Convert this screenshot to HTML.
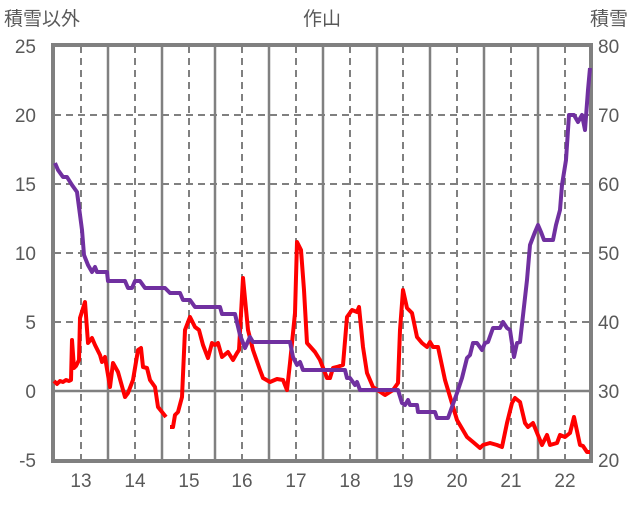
<!DOCTYPE html>
<html><head><meta charset="utf-8"><style>
html,body{margin:0;padding:0;background:#fff;}
svg text{font-family:"Liberation Sans","Noto Sans CJK JP",sans-serif;fill:#595959;}
</style></head><body>
<svg width="636" height="501" viewBox="0 0 636 501" xmlns="http://www.w3.org/2000/svg">
<g stroke="#808080" stroke-width="2" stroke-dasharray="7,5" fill="none">
<line x1="54" y1="115" x2="590" y2="115"/><line x1="54" y1="184" x2="590" y2="184"/>
<line x1="54" y1="253" x2="590" y2="253"/><line x1="54" y1="322" x2="590" y2="322"/>
<line x1="81" y1="46" x2="81" y2="460"/><line x1="135" y1="46" x2="135" y2="460"/>
<line x1="189" y1="46" x2="189" y2="460"/><line x1="242" y1="46" x2="242" y2="460"/>
<line x1="296" y1="46" x2="296" y2="460"/><line x1="350" y1="46" x2="350" y2="460"/>
<line x1="403" y1="46" x2="403" y2="460"/><line x1="457" y1="46" x2="457" y2="460"/>
<line x1="511" y1="46" x2="511" y2="460"/><line x1="565" y1="46" x2="565" y2="460"/>
</g>
<g stroke="#808080" stroke-width="2.5" fill="none">
<line x1="108" y1="46" x2="108" y2="460"/><line x1="162" y1="46" x2="162" y2="460"/>
<line x1="215" y1="46" x2="215" y2="460"/><line x1="269" y1="46" x2="269" y2="460"/>
<line x1="323" y1="46" x2="323" y2="460"/><line x1="377" y1="46" x2="377" y2="460"/>
<line x1="430" y1="46" x2="430" y2="460"/><line x1="484" y1="46" x2="484" y2="460"/>
<line x1="538" y1="46" x2="538" y2="460"/>
<line x1="54" y1="391" x2="590" y2="391"/>
</g>
<rect x="53" y="45" width="538" height="416" fill="none" stroke="#808080" stroke-width="4"/>
<polyline fill="none" stroke="#ff0000" stroke-width="4" stroke-linejoin="round" points="54,381 57,384 60,381 63,382 66,380 69,381 71,380 72,340 74,368 76,366 79,360 80,318 85,302 88,343 92,338 95,345 100,355 102,362 105,357 110,387 113,363 118,372 125,397 128,393 133,380 138,350 141,348 143,367 147,368 150,380 155,387 158,407 162,412 166,417"/>
<polyline fill="none" stroke="#ff0000" stroke-width="4" stroke-linejoin="round" points="170,427 173,427 175,415 178,412 182,397 185,330 190,317 195,327 199,330 203,345 208,358 212,343 215,345 218,343 222,357 228,352 233,360 237,353 239,350 243,278 248,330 253,350 260,370 263,378 270,382 277,379 283,380 287,390 290,363 295,313 297,242 301,250 304,290 307,343 315,352 320,360 327,378 330,378 333,368 337,367 343,365 347,317 352,310 357,312 359,307 363,347 367,373 373,387 385,395 393,390 398,383 400,330 403,290 407,308 412,313 417,337 422,343 427,347 430,342 433,347 438,347 445,380 457,420 467,437 473,442 480,448 483,445 490,443 497,445 502,447 507,423 512,403 515,398 520,402 525,423 528,427 533,423 542,445 547,435 550,445 557,443 560,435 565,437 570,433 574,417 580,445 583,446 587,452 590,452"/>
<polyline fill="none" stroke="#7030a0" stroke-width="4" stroke-linejoin="round" points="55,163 58,170 63,177 67,177 72,185 77,192 82,230 84,255 88,265 92,272 95,267 97,272 107,272 108,281 125,281 128,288 132,288 135,281 140,281 145,288 165,288 170,293 180,293 183,300 190,300 195,307 220,307 222,314 235,314 240,335 245,348 250,337 253,342 290,342 293,357 297,365 300,362 303,370 345,370 347,378 350,378 355,385 357,382 360,390 398,390 402,403 405,405 408,400 410,405 417,405 418,412 435,412 437,418 448,418 457,393 462,378 467,358 470,355 473,343 477,343 482,350 485,343 488,342 493,328 500,328 503,322 507,328 510,330 514,357 517,343 520,342 527,280 530,245 535,232 538,225 541,232 544,240 553,240 556,225 560,210 562,185 566,160 569,115 574,115 578,122 582,115 585,130 588,90 590,68"/>
<g font-size="19" text-anchor="end">
<text x="36" y="53">25</text><text x="36" y="122">20</text><text x="36" y="191">15</text>
<text x="36" y="260">10</text><text x="36" y="329">5</text><text x="36" y="398">0</text><text x="36" y="467">-5</text>
</g>
<g font-size="19" text-anchor="start">
<text x="598" y="53">80</text><text x="598" y="122">70</text><text x="598" y="191">60</text>
<text x="598" y="260">50</text><text x="598" y="329">40</text><text x="598" y="398">30</text><text x="598" y="467">20</text>
</g>
<g font-size="19" text-anchor="middle">
<text x="81" y="487">13</text><text x="135" y="487">14</text><text x="189" y="487">15</text>
<text x="242" y="487">16</text><text x="296" y="487">17</text><text x="350" y="487">18</text>
<text x="403" y="487">19</text><text x="457" y="487">20</text><text x="511" y="487">21</text><text x="565" y="487">22</text>
<text x="322" y="25">作山</text>
</g>
<text x="4" y="25" font-size="19">積雪以外</text>
<text x="590" y="25" font-size="19">積雪</text>
</svg>
</body></html>
